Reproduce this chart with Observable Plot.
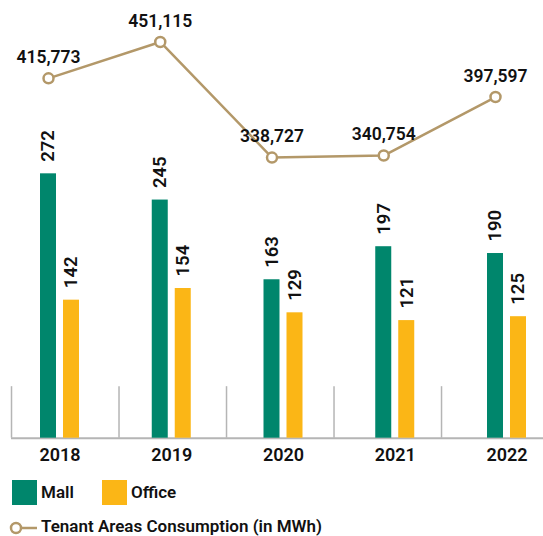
<!DOCTYPE html>
<html>
<head>
<meta charset="utf-8">
<script src="https://cdn.jsdelivr.net/npm/d3@7"></script>
<script src="https://cdn.jsdelivr.net/npm/@observablehq/plot@0.6"></script>
<style>
  html, body { margin: 0; padding: 0; background: #fff; overflow: hidden; }
  body { width: 543px; height: 536px; position: relative; font-family: Roboto, "Liberation Sans", sans-serif; }
  #chart { position: absolute; left: 0; top: 0; }
  .legend { position: absolute; font-weight: 600; color: #111; font-size: 17px; }
  .sw { position: absolute; width: 25px; height: 25px; }
</style>
</head>
<body>
<div id="chart"></div>
<div class="sw" style="left:12px;top:480px;background:#00866c"></div>
<div class="legend" style="left:41px;top:482px;">Mall</div>
<div class="sw" style="left:102px;top:480px;background:#fbb616"></div>
<div class="legend" style="left:131px;top:482px;">Office</div>
<svg style="position:absolute;left:8px;top:520px" width="32" height="16">
  <line x1="14" y1="8" x2="29" y2="8" stroke="#b39869" stroke-width="2.5"/>
  <circle cx="8" cy="8" r="5" fill="#fff" stroke="#b39869" stroke-width="2.5"/>
</svg>
<div class="legend" style="left:41px;top:516px;">Tenant Areas Consumption (in MWh)</div>
<script>
const years = [2018, 2019, 2020, 2021, 2022];
const mall = [272, 245, 163, 197, 190];
const office = [142, 154, 129, 121, 125];
const consumption = [415773, 451115, 338727, 340754, 397597];

const GREEN = "#00866c", YELLOW = "#fbb616", TAN = "#b39869", GRAY = "#b5b5b5";
const HW = 0.0716;      // half bar width (years)
const OFF = 0.2058;     // office offset
const LBL = 0.1029;     // year label offset
// secondary axis: MWh -> bar units
const lineScale = d3.scaleLinear([66050, 491120], [0, 450]);

const data = years.map((year, i) => ({year, mall: mall[i], office: office[i], cons: consumption[i]}));
const seps = years.map((y, i) => ({x: years[0] - 0.331 + 0.962 * i}));

const font = "Roboto, 'Liberation Sans', sans-serif";
const chart = Plot.plot({
  width: 543,
  height: 470,
  margin: 0,
  x: {type: "linear", domain: [2018, 2022], range: [48, 495], axis: null},
  y: {type: "linear", domain: [0, 450], range: [437.7, 0.3], axis: null},
  style: {fontFamily: font, background: "transparent", overflow: "visible"},
  marks: [
    Plot.ruleX(seps, {x: "x", y1: 0, y2: 53, stroke: GRAY, strokeWidth: 1.5}),
    Plot.ruleY([0], {x1: seps[0].x, x2: 2022.5, stroke: GRAY, strokeWidth: 2}),
    Plot.rectY(data, {x1: d => d.year - HW, x2: d => d.year + HW, y: "mall", fill: GREEN}),
    Plot.rectY(data, {x1: d => d.year + OFF - HW, x2: d => d.year + OFF + HW, y: "office", fill: YELLOW}),
    Plot.text(data, {x: "year", y: "mall", text: d => String(d.mall), rotate: -90, textAnchor: "start", dy: -12, fontSize: 18.5, fontWeight: 600, fill: "#111"}),
    Plot.text(data, {x: d => d.year + OFF, y: "office", text: d => String(d.office), rotate: -90, textAnchor: "start", dy: -12, fontSize: 18.5, fontWeight: 600, fill: "#111"}),
    Plot.text(data, {x: d => d.year + LBL, y: 0, text: d => String(d.year), dy: 17.2, fontSize: 18, fontWeight: 600, fill: "#111"}),
    Plot.line(data, {x: "year", y: d => lineScale(d.cons), stroke: TAN, strokeWidth: 2.5}),
    Plot.dot(data, {x: "year", y: d => lineScale(d.cons), r: 5, fill: "#fff", stroke: TAN, strokeWidth: 2.5}),
    Plot.text(data, {x: "year", y: d => lineScale(d.cons), text: d => d3.format(",")(d.cons), dy: -21, fontSize: 17.5, fontWeight: 600, fill: "#111"})
  ]
});
document.getElementById("chart").appendChild(chart);
</script>
</body>
</html>
